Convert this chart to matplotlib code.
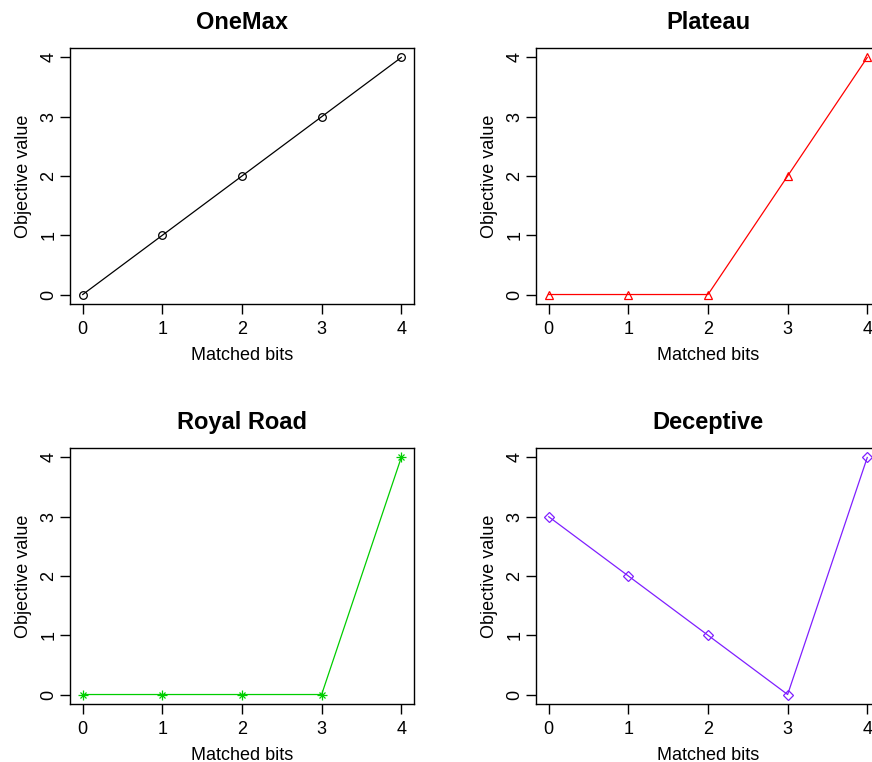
import matplotlib
matplotlib.use("Agg")
import matplotlib.pyplot as plt

# matched bits on x, objective value on y
bits = [0, 1, 2, 3, 4]
onemax = [0, 1, 2, 3, 4]
plateau = [0, 0, 0, 2, 4]
royal_road = [0, 0, 0, 0, 4]
deceptive = [3, 2, 1, 0, 4]

titles = ["OneMax", "Plateau", "Royal Road", "Deceptive"]
series = [onemax, plateau, royal_road, deceptive]
colors = ["black", "#FF0000", "#00CD00", "#7F1FFF"]
markers = ["o", "^", "*", "D"]

plt.rcParams["font.family"] = ["Liberation Sans", "DejaVu Sans"]

W, H = 872, 762
fig = plt.figure(figsize=(W / 100, H / 100), dpi=100)

# axes boxes in pixels: left, top
boxes = [(70, 48), (536, 48), (70, 448), (536, 448)]
bw, bh = 344, 256


def draw_marker(ax, x, y, kind, col):
    if kind == "*":
        # R pch 8: plus and cross on top of each other
        ax.plot(x, y, linestyle="none", marker="+", ms=6.5, mew=0.9, color=col)
        ax.plot(x, y, linestyle="none", marker="x", ms=4.6, mew=0.9, color=col)
    elif kind == "D":
        ax.plot(x, y, linestyle="none", marker="D", ms=4.6, mew=0.9,
                mfc="none", color=col)
    elif kind == "^":
        ax.plot(x, y, linestyle="none", marker="^", ms=6.2, mew=0.9,
                mfc="none", color=col)
    else:
        ax.plot(x, y, linestyle="none", marker="o", ms=5.5, mew=0.9,
                mfc="none", color=col)


for (left, top), title, vals, col, mk in zip(boxes, titles, series, colors, markers):
    ax = fig.add_axes([left / W, 1 - (top + bh) / H, bw / W, bh / H])
    ax.plot(bits, vals, color=col, lw=0.9)
    draw_marker(ax, bits, vals, mk, col)
    ax.set_xlim(-0.16, 4.16)
    ax.set_ylim(-0.16, 4.16)
    ax.set_xticks(bits)
    ax.set_yticks([0, 1, 2, 3, 4])
    ax.tick_params(direction="out", length=7, width=1.0, labelsize=13)
    ax.tick_params(axis="x", pad=5)
    ax.tick_params(axis="y", pad=2)
    for lab in ax.get_yticklabels():
        lab.set_rotation(90)
        lab.set_va("center")
    for sp in ax.spines.values():
        sp.set_linewidth(1.0)
    ax.set_title(title, fontsize=17, fontweight="bold", pad=14)
    ax.set_xlabel("Matched bits", fontsize=13, labelpad=7)
    ax.set_ylabel("Objective value", fontsize=13, labelpad=6)

fig.savefig("out.png", dpi=100)
